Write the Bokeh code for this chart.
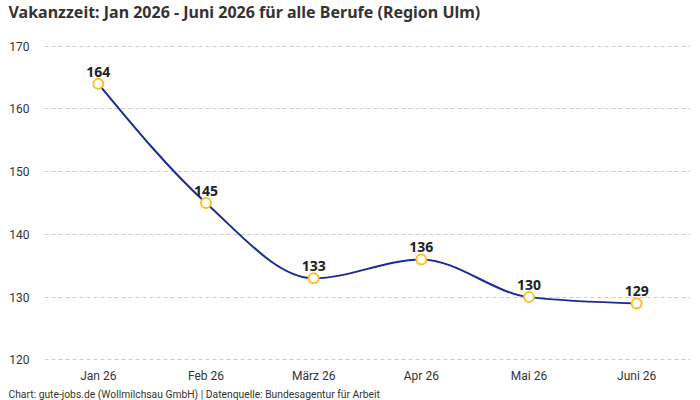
import numpy as np
from bokeh.plotting import figure
from bokeh.models import Title, Range1d, FixedTicker, ColumnDataSource
from bokeh.embed import file_html
from bokeh.resources import INLINE
from bokeh.core.properties import value

months = ["Jan 26", "Feb 26", "März 26", "Apr 26", "Mai 26", "Juni 26"]
vakanz = [164, 145, 133, 136, 130, 129]
y_ticks = [120, 130, 140, 150, 160, 170]

title_text = "Vakanzzeit: Jan 2026 - Juni 2026 für alle Berufe (Region Ulm)"
footer_text = "Chart: gute-jobs.de (Wollmilchsau GmbH) | Datenquelle: Bundesagentur für Arbeit"

FONT = "Noto Sans"
SMALL_FONT = "Roboto"
LINE_COLOR = "#1B2B94"
MARK_COLOR = "#F7C325"

xs = list(range(len(months)))

p = figure(width=700, height=400, output_backend="svg", toolbar_location=None,
           title_location=None,
           x_range=Range1d(-0.5, len(months) - 0.5), y_range=Range1d(119.9, 170.1),
           min_border_left=44, min_border_right=10, min_border_top=0, min_border_bottom=0)
p.outline_line_color = None
p.background_fill_color = "white"

# spacer between title and plot area, then the title itself
spacer = Title(text=" ", text_font=FONT, text_font_size="10px", standoff=5)
p.add_layout(spacer, "above")
main_title = Title(text=title_text, text_font=FONT, text_font_size="16px",
                   text_font_style="bold", text_color="#333333", align="left",
                   offset=-36, standoff=0, vertical_align="top")
p.add_layout(main_title, "above")

footer = Title(text=footer_text, align="left", text_font=SMALL_FONT, text_font_size="10.3px",
               text_font_style="normal", text_color="#333333", offset=-36, standoff=0)
p.add_layout(footer, "below")

# Axes
p.xaxis.ticker = FixedTicker(ticks=xs)
p.xaxis.major_label_overrides = {i: m for i, m in enumerate(months)}
p.yaxis.ticker = FixedTicker(ticks=y_ticks)
for ax in (p.xaxis[0], p.yaxis[0]):
    ax.axis_line_color = None
    ax.major_tick_line_color = None
    ax.minor_tick_line_color = None
    ax.major_tick_out = 0
    ax.major_tick_in = 0
    ax.minor_tick_out = 0
    ax.minor_tick_in = 0
    ax.major_label_text_font = SMALL_FONT
    ax.major_label_text_font_size = "12px"
    ax.major_label_text_color = "#333333"
p.yaxis.major_label_standoff = 15
p.xaxis.major_label_standoff = 8

p.xgrid.grid_line_color = None
p.ygrid.grid_line_color = "#cccccc"
p.ygrid.grid_line_dash = "4 3"
p.ygrid.grid_line_width = 1

# Monotone cubic (monotoneX) bezier segments
x = np.array(xs, dtype=float)
y = np.array(vakanz, dtype=float)
n = len(x)
h = np.diff(x)
s = np.diff(y) / h
t = np.zeros(n)
for i in range(1, n - 1):
    h0, h1 = h[i - 1], h[i]
    s0, s1 = s[i - 1], s[i]
    pp = (s0 * h1 + s1 * h0) / (h0 + h1)
    t[i] = (np.sign(s0) + np.sign(s1)) * min(abs(s0), abs(s1), 0.5 * abs(pp))
t[0] = (3 * s[0] - t[1]) / 2
t[-1] = (3 * s[-1] - t[-2]) / 2
x0 = x[:-1]; x1 = x[1:]; y0 = y[:-1]; y1 = y[1:]
dx = (x1 - x0) / 3
bz = ColumnDataSource(dict(x0=x0, y0=y0, x1=x1, y1=y1,
                           cx0=x0 + dx, cy0=y0 + dx * t[:-1],
                           cx1=x1 - dx, cy1=y1 - dx * t[1:]))
p.bezier(x0="x0", y0="y0", x1="x1", y1="y1", cx0="cx0", cy0="cy0", cx1="cx1", cy1="cy1",
         source=bz, line_color=LINE_COLOR, line_width=2)

src = ColumnDataSource(dict(x=xs, y=vakanz, lab=[str(v) for v in vakanz]))
p.scatter("x", "y", source=src, size=10, fill_color="white", line_color=MARK_COLOR, line_width=2)
p.text("x", "y", text="lab", source=src, text_font=value(FONT), text_font_size="14px",
       text_font_style="bold", text_color="#222222", text_align="center",
       text_baseline="bottom", y_offset=-7)

open("out.html", "w").write(file_html(p, INLINE))
